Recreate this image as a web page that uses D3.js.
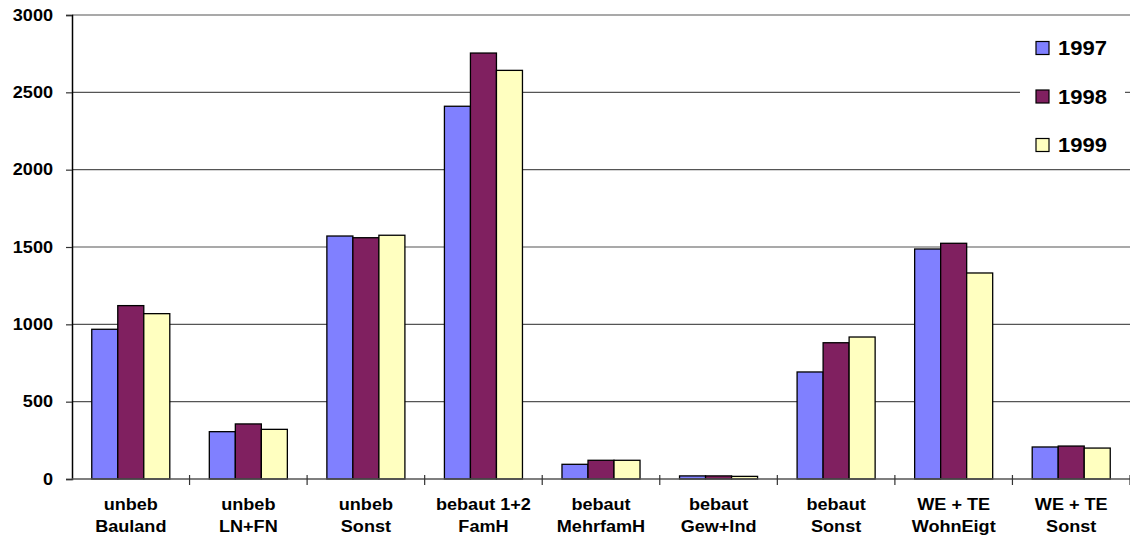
<!DOCTYPE html>
<html>
<head>
<meta charset="utf-8">
<script src="https://cdn.jsdelivr.net/npm/d3@7"></script>
<style>
  html, body { margin: 0; padding: 0; background: #fff; }
  svg { display: block; font-family: "Liberation Sans", Arial, sans-serif; }
</style>
</head>
<body>
<svg id="chart" width="1130" height="535"></svg>
<script>
// Categories (two-line labels) and yearly values
const categories = [
  ["unbeb", "Bauland"],
  ["unbeb", "LN+FN"],
  ["unbeb", "Sonst"],
  ["bebaut 1+2", "FamH"],
  ["bebaut", "MehrfamH"],
  ["bebaut", "Gew+Ind"],
  ["bebaut", "Sonst"],
  ["WE + TE", "WohnEigt"],
  ["WE + TE", "Sonst"]
];
const years = ["1997", "1998", "1999"];
const values1997 = [968, 306, 1571, 2410, 95, 20, 692, 1487, 207];
const values1998 = [1121, 356, 1560, 2754, 121, 20, 881, 1524, 213];
const values1999 = [1069, 321, 1576, 2642, 121, 17, 918, 1332, 200];
const yTicks = [0, 500, 1000, 1500, 2000, 2500, 3000];
const colors = ["#8080FF", "#802060", "#FFFFC0"];

const series = [values1997, values1998, values1999];
const svg = d3.select("#chart");

const plotLeft = 72, plotRight = 1130, plotTop = 15, plotBottom = 479;
const stretch = 1.13; // horizontal widening of the lettering

const x = d3.scaleBand()
  .domain(d3.range(categories.length))
  .range([plotLeft, plotRight])
  .paddingInner(0)
  .paddingOuter(0);

const inner = 78 / 117.5;
const x1 = d3.scaleBand()
  .domain(years)
  .range([(x.bandwidth() - x.bandwidth() * inner) / 2, (x.bandwidth() + x.bandwidth() * inner) / 2]);

const y = d3.scaleLinear().domain([0, 3000]).range([plotBottom, plotTop]);

// Horizontal gridlines
svg.append("g")
  .selectAll("line")
  .data(yTicks.filter(d => d > 0))
  .join("line")
  .attr("x1", plotLeft).attr("x2", plotRight)
  .attr("y1", d => y(d)).attr("y2", d => y(d))
  .attr("stroke", "#555").attr("stroke-width", 1.2);

// Bars
const groups = svg.append("g")
  .selectAll("g")
  .data(categories.map((c, i) => i))
  .join("g")
  .attr("transform", i => `translate(${x(i)},0)`);

groups.selectAll("rect")
  .data(i => years.map((yr, k) => ({ yr, v: series[k][i], k })))
  .join("rect")
  .attr("x", d => x1(d.yr))
  .attr("width", x1.bandwidth())
  .attr("y", d => y(d.v))
  .attr("height", d => y(0) - y(d.v))
  .attr("fill", d => colors[d.k])
  .attr("stroke", "#000")
  .attr("stroke-width", 1.3);

// Y axis
const yAxis = d3.axisLeft(y).tickValues(yTicks).tickSize(6).tickPadding(12).tickFormat(d3.format("d"));
const gy = svg.append("g").attr("transform", `translate(${plotLeft},0)`).call(yAxis);
gy.select(".domain").attr("stroke", "#000").attr("stroke-width", 1.5);
gy.selectAll(".tick line").attr("stroke", "#333").attr("stroke-width", 1.2);
gy.selectAll(".tick text")
  .attr("font-size", 16).attr("font-weight", "bold")
  .attr("font-family", "'Liberation Sans', Arial, sans-serif")
  .attr("fill", "#000")
  .attr("x", -19 / stretch)
  .attr("transform", `scale(${stretch},1)`);

// X axis with ticks at category boundaries
const gx = svg.append("g");
gx.append("line")
  .attr("x1", plotLeft).attr("x2", plotRight)
  .attr("y1", plotBottom).attr("y2", plotBottom)
  .attr("stroke", "#555").attr("stroke-width", 1.5);
gx.selectAll(".xt")
  .data(d3.range(1, categories.length + 1))
  .join("line")
  .attr("class", "xt")
  .attr("x1", i => x(i - 1) + x.bandwidth()).attr("x2", i => x(i - 1) + x.bandwidth())
  .attr("y1", plotBottom - 4).attr("y2", plotBottom + 6)
  .attr("stroke", "#333").attr("stroke-width", 1.2);

const labels = gx.selectAll(".xl")
  .data(categories.map((c, i) => ({ c, i })))
  .join("g")
  .attr("class", "xl")
  .attr("transform", d => `translate(${x(d.i) + x.bandwidth() / 2},0) scale(${stretch},1)`)
  .append("text")
  .attr("text-anchor", "middle")
  .attr("font-size", 16).attr("font-weight", "bold")
  .attr("fill", "#000");
labels.append("tspan")
  .attr("x", 0).attr("y", 510)
  .text(d => d.c[0]);
labels.append("tspan")
  .attr("x", 0).attr("y", 532)
  .text(d => d.c[1]);

// Legend
const legend = svg.append("g");
legend.append("rect")
  .attr("x", 1020).attr("y", 24).attr("width", 105).attr("height", 145)
  .attr("fill", "#fff");
const items = legend.selectAll(".li")
  .data(years.map((yr, k) => ({ yr, k })))
  .join("g")
  .attr("class", "li")
  .attr("transform", d => `translate(1036,${48 + d.k * 48.5})`);
items.append("rect")
  .attr("x", 0).attr("y", -6.5).attr("width", 13).attr("height", 13)
  .attr("fill", d => colors[d.k])
  .attr("stroke", "#000").attr("stroke-width", 1.2);
items.append("text")
  .attr("transform", `translate(22,7) scale(${stretch},1)`)
  .attr("font-size", 19.5).attr("font-weight", "bold")
  .attr("fill", "#000")
  .text(d => d.yr);
</script>
</body>
</html>
